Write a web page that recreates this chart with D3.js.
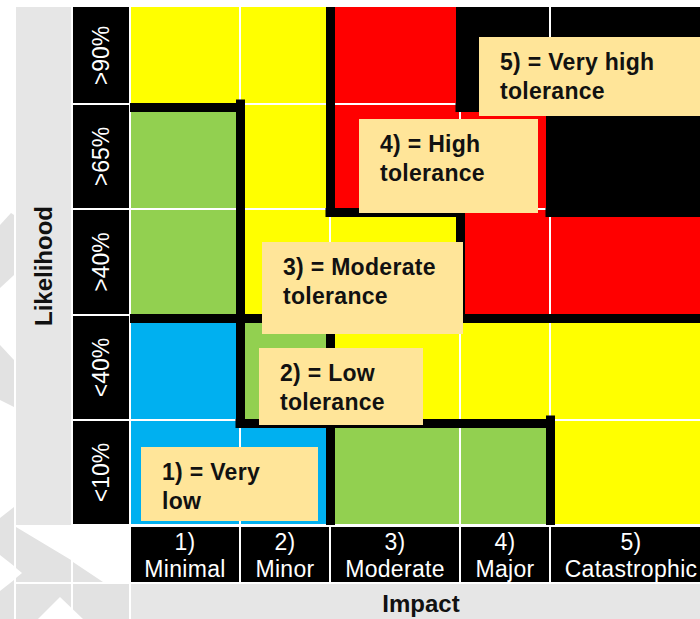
<!DOCTYPE html>
<html>
<head>
<meta charset="utf-8">
<script src="https://cdn.jsdelivr.net/npm/d3@7"></script>
<style>
  html, body { margin: 0; padding: 0; background: #fff; }
  svg { display: block; }
  text { font-family: "Liberation Sans", Arial, sans-serif; }
</style>
</head>
<body>
<div id="chart"></div>
<script>
// ---------------- DATA ----------------
const impactNumbers = ["1)", "2)", "3)", "4)", "5)"];
const impactNames = ["Minimal", "Minor", "Moderate", "Major", "Catastrophic"];
const likelihoodLabels = [">90%", ">65%", ">40%", "<40%", "<10%"];
// tolerance zone of each cell, rows top (>90%) to bottom (<10%), columns Minimal..Catastrophic
const zoneRow1 = [3, 3, 4, 5, 5];
const zoneRow2 = [2, 3, 4, 4, 5];
const zoneRow3 = [2, 3, 3, 4, 4];
const zoneRow4 = [1, 2, 3, 3, 3];
const zoneRow5 = [1, 1, 2, 2, 3];
const zoneIds = [1, 2, 3, 4, 5];
const zoneLine1 = ["1) = Very", "2) = Low", "3) = Moderate", "4) = High", "5) = Very high"];
const zoneLine2 = ["low", "tolerance", "tolerance", "tolerance", "tolerance"];
const xTitle = "Impact";
const yTitle = "Likelihood";

// ---------------- LAYOUT / STYLE ----------------
const W = 700, H = 619;
const zoneColors = d3.scaleOrdinal().domain(zoneIds)
  .range(["#00B0F0", "#92D050", "#FFFF00", "#FF0000", "#000000"]);
const colWidths = [110, 90, 130, 90, 162];
const rowHeights = [97, 105, 106, 105, 105];
const gridLeft = 130, gridTop = 7;
const colStarts = colWidths.map((w, i) => gridLeft + d3.sum(colWidths.slice(0, i)));
const rowStarts = rowHeights.map((h, i) => gridTop + d3.sum(rowHeights.slice(0, i)));
const x = d3.scaleOrdinal().domain(impactNames).range(colStarts);
const xw = d3.scaleOrdinal().domain(impactNames).range(colWidths);
const y = d3.scaleOrdinal().domain(likelihoodLabels).range(rowStarts);
const yh = d3.scaleOrdinal().domain(likelihoodLabels).range(rowHeights);
const gridRight = colStarts[4] + colWidths[4];
const gridBottom = rowStarts[4] + rowHeights[4];

const zones = [zoneRow1, zoneRow2, zoneRow3, zoneRow4, zoneRow5];
const cells = [];
likelihoodLabels.forEach((lk, r) => impactNames.forEach((im, c) =>
  cells.push({ lk, im, r, c, zone: zones[r][c] })));

// annotation boxes (anchored on cells): [impact col, likelihood row, dx, dy, w, h]
const boxAnchors = [
  ["Minimal", "<10%", 11, 27, 177, 74],
  ["Minor", "<40%", 19, 33, 164, 77],
  ["Minor", ">40%", 22, 33, 201, 92],
  ["Moderate", ">65%", 29, 15, 179, 94],
  ["Major", ">90%", 19, 30, 245, 79]
];

const svg = d3.select("#chart").append("svg")
  .attr("width", W).attr("height", H);

// ---------------- WATERMARK (background) ----------------
const wmColor = "#e2e2e2";
const wm = svg.append("g");
const wmPolys = [
  [[0,225],[11,213],[14,215],[14,275],[0,288]],
  [[0,345],[14,360],[14,407],[0,400]],
  [[0,518],[14,507],[14,566],[0,555]],
  [[0,591],[14,580],[14,619],[0,619]],
  [[16,527],[71,560],[71,582],[16,582]],
  [[73,562],[103,582],[73,582]],
  [[16,584],[71,584],[71,619],[16,619]],
  [[73,584],[129,584],[129,619],[73,619]]
];
wm.selectAll("polygon.g").data(wmPolys).join("polygon")
  .attr("points", d => d.map(p => p.join(",")).join(" "))
  .attr("fill", wmColor);
const wmWhite = [
  [[16,568],[22,573],[16,578]],
  [[60,597],[38,619],[83,619]]
];
wm.selectAll("polygon.w").data(wmWhite).join("polygon")
  .attr("points", d => d.map(p => p.join(",")).join(" "))
  .attr("fill", "#fff");

// ---------------- BANDS ----------------
svg.append("rect").attr("x", 16).attr("y", gridTop)
  .attr("width", 55).attr("height", gridBottom - gridTop).attr("fill", "#e6e6e6");
svg.append("rect").attr("x", gridLeft + 1).attr("y", 584)
  .attr("width", gridRight - gridLeft).attr("height", 36).attr("fill", "#e6e6e6");

svg.append("text")
  .attr("transform", `translate(52,${(gridTop + gridBottom) / 2}) rotate(-90)`)
  .attr("text-anchor", "middle").attr("font-weight", "bold").attr("font-size", 24)
  .attr("fill", "#111").text(yTitle);
svg.append("text")
  .attr("x", (gridLeft + gridRight) / 2).attr("y", 612)
  .attr("text-anchor", "middle").attr("font-weight", "bold").attr("font-size", 24)
  .attr("fill", "#111").text(xTitle);

// ---------------- ROW LABELS ----------------
const rowG = svg.append("g");
rowG.selectAll("rect").data(likelihoodLabels).join("rect")
  .attr("x", 73).attr("y", d => y(d) + (d === likelihoodLabels[0] ? 0 : 1))
  .attr("width", 56).attr("height", d => yh(d) - (d === likelihoodLabels[0] ? 1 : 2))
  .attr("fill", "#000");
rowG.selectAll("text").data(likelihoodLabels).join("text")
  .attr("transform", d => `translate(109,${y(d) + yh(d) / 2}) rotate(-90)`)
  .attr("text-anchor", "middle").attr("font-size", 23).attr("fill", "#fff")
  .text(d => d);

// ---------------- COLUMN LABELS ----------------
const colG = svg.append("g");
colG.selectAll("rect").data(impactNames).join("rect")
  .attr("x", d => x(d) + 1).attr("y", 527)
  .attr("width", d => xw(d) - 2).attr("height", 55).attr("fill", "#000");
colG.selectAll("text.num").data(impactNames).join("text").attr("class", "num")
  .attr("x", d => x(d) + xw(d) / 2).attr("y", 550)
  .attr("text-anchor", "middle").attr("font-size", 23).attr("letter-spacing", 0.3)
  .attr("fill", "#fff").text((d, i) => impactNumbers[i]);
colG.selectAll("text.name").data(impactNames).join("text").attr("class", "name")
  .attr("x", d => x(d) + xw(d) / 2).attr("y", 577)
  .attr("text-anchor", "middle").attr("font-size", 23).attr("letter-spacing", 0.3)
  .attr("fill", "#fff").text(d => d);

// ---------------- CELLS ----------------
svg.append("g").selectAll("rect").data(cells).join("rect")
  .attr("x", d => x(d.im) + 1)
  .attr("y", d => y(d.lk) + (d.r === 0 ? 0 : 1))
  .attr("width", d => xw(d.im) - 2)
  .attr("height", d => yh(d.lk) - (d.r === 0 ? 1 : 2))
  .attr("fill", d => zoneColors(d.zone));

// ---------------- ZONE BOUNDARIES ----------------
svg.append("defs").append("clipPath").attr("id", "gridClip")
  .append("rect").attr("x", gridLeft).attr("y", gridTop)
  .attr("width", gridRight - gridLeft).attr("height", gridBottom - gridTop);
const segs = [];
cells.forEach(d => {
  if (d.c < 4 && zones[d.r][d.c + 1] !== d.zone) {
    const xe = x(impactNames[d.c + 1]) + 0.5;
    segs.push([[xe, y(d.lk)], [xe, y(d.lk) + yh(d.lk)]]);
  }
  if (d.r < 4 && zones[d.r + 1][d.c] !== d.zone) {
    const ye = y(likelihoodLabels[d.r + 1]) + 3.5;
    segs.push([[x(d.im), ye], [x(d.im) + xw(d.im), ye]]);
  }
});
svg.append("g").attr("clip-path", "url(#gridClip)")
  .selectAll("path").data(segs).join("path")
  .attr("d", d => d3.line()(d))
  .attr("stroke", "#000").attr("stroke-width", 9)
  .attr("stroke-linecap", "square").attr("fill", "none");

// ---------------- ZONE ANNOTATIONS ----------------
const ann = svg.append("g");
const boxes = boxAnchors.map((b, i) => ({
  x: x(b[0]) + b[2], y: y(b[1]) + b[3], w: b[4], h: b[5],
  l1: zoneLine1[i], l2: zoneLine2[i]
}));
ann.selectAll("rect").data(boxes).join("rect")
  .attr("x", d => d.x).attr("y", d => d.y)
  .attr("width", d => d.w).attr("height", d => d.h)
  .attr("fill", "#FFE599");
ann.selectAll("text.l1").data(boxes).join("text").attr("class", "l1")
  .attr("x", d => d.x + 21).attr("y", d => d.y + 33)
  .attr("font-weight", "bold").attr("font-size", 23).attr("letter-spacing", 0.3)
  .attr("fill", "#111").text(d => d.l1);
ann.selectAll("text.l2").data(boxes).join("text").attr("class", "l2")
  .attr("x", d => d.x + 21).attr("y", d => d.y + 62)
  .attr("font-weight", "bold").attr("font-size", 23).attr("letter-spacing", 0.3)
  .attr("fill", "#111").text(d => d.l2);
</script>
</body>
</html>
